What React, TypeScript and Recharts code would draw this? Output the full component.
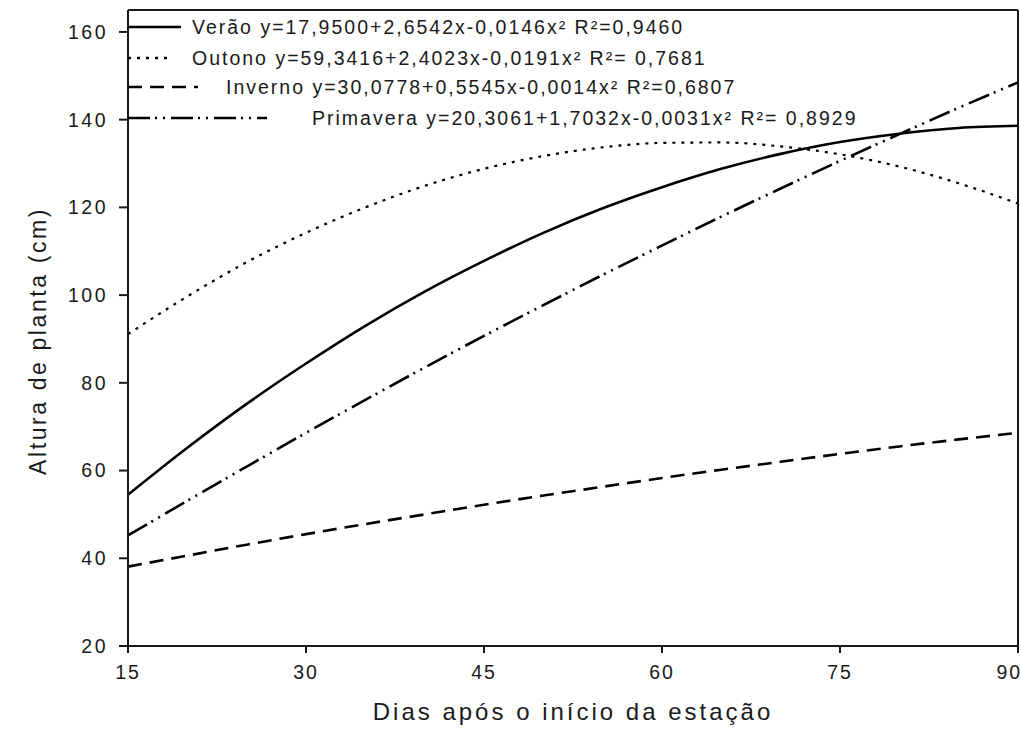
import { LineChart, Line, XAxis, YAxis, ReferenceLine } from 'recharts';

// dias após o início da estação
const days = [15, 20, 25, 30, 35, 40, 45, 50, 55, 60, 65, 70, 75, 80, 85, 90];

const verao = [54.5, 65.2, 75.2, 84.4, 93.0, 100.8, 107.8, 114.2, 119.8, 124.6, 128.8, 132.2, 134.9, 136.8, 138.1, 138.6];
const outono = [91.1, 99.7, 107.5, 114.2, 120.0, 124.9, 128.8, 131.7, 133.7, 134.7, 134.8, 133.9, 132.1, 129.3, 125.5, 120.9];
const inverno = [38.1, 40.6, 43.1, 45.5, 47.8, 50.0, 52.2, 54.3, 56.3, 58.3, 60.2, 62.0, 63.8, 65.5, 67.1, 68.6];
const primavera = [45.2, 53.1, 60.9, 68.6, 76.1, 83.5, 90.7, 97.7, 104.6, 111.3, 117.9, 124.3, 130.6, 136.7, 142.7, 148.5];

const xTicks = [15, 30, 45, 60, 75, 90];
const yTicks = [20, 40, 60, 80, 100, 120, 140, 160];

const data = days.map((d, i) => ({
  dia: d,
  verao: verao[i],
  outono: outono[i],
  inverno: inverno[i],
  primavera: primavera[i],
}));

const legendItems = [
  { label: 'Verão y=17,9500+2,6542x-0,0146x² R²=0,9460', dash: undefined, len: 53, textX: 192, y: 27 },
  { label: 'Outono y=59,3416+2,4023x-0,0191x² R²= 0,7681', dash: '3 6', len: 45, textX: 192, y: 58 },
  { label: 'Inverno y=30,0778+0,5545x-0,0014x² R²=0,6807', dash: '14 8', len: 70, textX: 226, y: 87 },
  { label: 'Primavera y=20,3061+1,7032x-0,0031x² R²= 0,8929', dash: '22 5 2 6 2 6', len: 139, textX: 312, y: 118 },
];

const font = '"Liberation Sans", Arial, sans-serif';
const ink = '#1a1a1a';

export default function App() {
  return (
    <div style={{ position: 'absolute', left: 0, top: 0, width: 1021, height: 749, background: '#fff', fontFamily: font }}>
      <LineChart width={1021} height={749} data={data} margin={{ top: 10, right: 3, bottom: 0, left: 0 }}>
        <XAxis
          dataKey="dia"
          type="number"
          domain={[15, 90]}
          ticks={xTicks}
          height={103}
          stroke={ink}
          strokeWidth={2}
          tickSize={7}
          tickMargin={12}
          tick={{ fill: ink, fontSize: 19.5, fontFamily: font, letterSpacing: 2 }}
          label={{ value: 'Dias após o início da estação', position: 'insideBottom', offset: 29, fill: ink, fontSize: 24, fontFamily: font, letterSpacing: 3 }}
        />
        <YAxis
          type="number"
          domain={[20, 165]}
          ticks={yTicks}
          stroke={ink}
          strokeWidth={2}
          tickSize={9}
          tickMargin={11}
          width={128}
          tick={{ fill: ink, fontSize: 19.5, fontFamily: font, letterSpacing: 2.5 }}
          label={{ value: 'Altura de planta (cm)', angle: -90, position: 'insideLeft', offset: 38, dy: 147, fill: ink, fontSize: 23, fontFamily: font, letterSpacing: 2.6 }}
        />
        <ReferenceLine y={165} stroke={ink} strokeWidth={2} />
        <ReferenceLine x={90} stroke={ink} strokeWidth={2} />
        <Line type="monotone" dataKey="verao" stroke="#000" strokeWidth={2.6} dot={false} isAnimationActive={false} />
        <Line type="monotone" dataKey="outono" stroke="#000" strokeWidth={2.2} strokeDasharray="3 6" dot={false} isAnimationActive={false} />
        <Line type="monotone" dataKey="inverno" stroke="#000" strokeWidth={2.6} strokeDasharray="14 8" dot={false} isAnimationActive={false} />
        <Line type="monotone" dataKey="primavera" stroke="#000" strokeWidth={2.6} strokeDasharray="22 5 2 6 2 6" dot={false} isAnimationActive={false} />
      </LineChart>
      <svg width={1021} height={749} style={{ position: 'absolute', left: 0, top: 0, pointerEvents: 'none' }}>
        {legendItems.map((it) => (
          <g key={it.label}>
            <line x1={128} x2={128 + it.len} y1={it.y} y2={it.y} stroke="#000" strokeWidth={2.6} strokeDasharray={it.dash} />
            <text x={it.textX} y={it.y + 7} fontSize={19.5} fontFamily={font} fill={ink} letterSpacing={2}>
              {it.label}
            </text>
          </g>
        ))}
      </svg>
    </div>
  );
}
